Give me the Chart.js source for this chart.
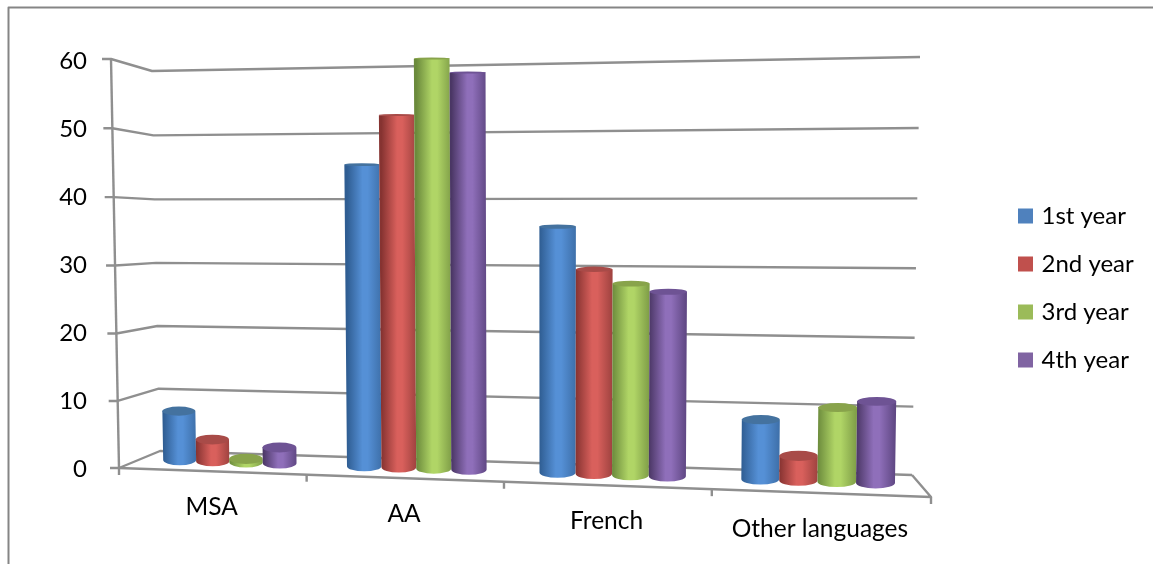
<!DOCTYPE html>
<html>
<head>
<meta charset="utf-8">
<title>Languages by year</title>
<script src="https://cdn.jsdelivr.net/npm/chart.js@4/dist/chart.umd.min.js"></script>
<style>
  html, body { margin: 0; padding: 0; background: #fff; }
  canvas { display: block; }
</style>
</head>
<body>
<canvas id="chart" width="1153" height="564"></canvas>
<script>
const categories = ['MSA', 'AA', 'French', 'Other languages'];
const seriesNames = ['1st year', '2nd year', '3rd year', '4th year'];
const year1 = [7.5, 44.7, 35.7, 8.5];
const year2 = [3.3, 51.9, 29.6, 3.5];
const year3 = [0.5, 60, 27.6, 10.5];
const year4 = [2.4, 57.9, 26.5, 11.5];
const yTicks = [0, 10, 20, 30, 40, 50, 60];

const legendColors = ['#4f81bd', '#c0504d', '#9bbb59', '#8064a2'];
// dark edge, highlight, right edge, cap
const shades = [
  ['#2f5d92', '#5590d6', '#3e70aa', '#44729f'],
  ['#863331', '#d9605c', '#a04340', '#a84b48'],
  ['#6b8a3c', '#b0d566', '#809f48', '#88a34b'],
  ['#4a3664', '#8f6fba', '#604884', '#6e5394']
];

const GRID = '#8f8f8f';
const FONT = 'Lato, Carlito, sans-serif';

// unit square -> quad (bottom-left, bottom-right, top-right, top-left)
function makeProjection(q) {
  const [x0, y0] = q[0], [x1, y1] = q[1], [x2, y2] = q[2], [x3, y3] = q[3];
  const sx = x0 - x1 + x2 - x3, sy = y0 - y1 + y2 - y3;
  const dx1 = x1 - x2, dx2 = x3 - x2, dy1 = y1 - y2, dy2 = y3 - y2;
  const den = dx1 * dy2 - dx2 * dy1;
  const g = (sx * dy2 - dx2 * sy) / den, h = (dx1 * sy - sx * dy1) / den;
  const a = x1 - x0 + g * x1, b = x3 - x0 + h * x3;
  const d = y1 - y0 + g * y1, e = y3 - y0 + h * y3;
  return (u, v) => {
    const w = g * u + h * v + 1;
    return { x: (a * u + b * v + x0) / w, y: (d * u + e * v + y0) / w };
  };
}

const frontPlane = makeProjection([[119, 468], [931, 497], [940, 43], [111, 59]]);
const barPlane = makeProjection([[139, 458.7], [924, 484.6], [931, 50], [132, 63.5]]);
const backPlane = makeProjection([[160, 451], [912, 475], [920, 57], [152, 71]]);

function line(ctx, points) {
  ctx.beginPath();
  points.forEach((p, i) => i ? ctx.lineTo(p.x, p.y) : ctx.moveTo(p.x, p.y));
  ctx.stroke();
}

function drawWalls(chart) {
  const { ctx, chartArea: area, scales } = chart;
  ctx.save();
  ctx.lineWidth = 2;
  ctx.lineJoin = 'round';

  // outer frame, running off the right and bottom of the canvas
  ctx.strokeStyle = '#858585';
  line(ctx, [{ x: 1153, y: 7.5 }, { x: 8.5, y: 7.5 }, { x: 8.5, y: 564 }]);

  ctx.strokeStyle = GRID;
  ctx.lineWidth = 2.4;

  // gridlines run along the side wall, then along the back wall
  scales.y.ticks.forEach(t => {
    const v = (area.bottom - scales.y.getPixelForValue(t.value)) / area.height;
    const f = frontPlane(0, v);
    line(ctx, [{ x: f.x - 9, y: f.y }, f, backPlane(0, v), backPlane(1, v)]);
  });

  line(ctx, [frontPlane(0, 1), frontPlane(0, 0)]);
  line(ctx, [frontPlane(0, 0), frontPlane(1, 0), backPlane(1, 0)]);

  // category separators under the floor edge
  for (let i = 0; i <= categories.length; i++) {
    const p = frontPlane(i / categories.length, 0);
    line(ctx, [p, { x: p.x, y: p.y + 7 }]);
  }
  ctx.restore();
}

function drawCylinder(chart, bar, datasetIndex) {
  const { ctx, chartArea: area } = chart;
  const uL = (bar.x - bar.width / 2 - area.left) / area.width;
  const uR = (bar.x + bar.width / 2 - area.left) / area.width;
  const vTop = (area.bottom - bar.y) / area.height;
  const vBase = (area.bottom - bar.base) / area.height;
  const bl = barPlane(uL, vBase), br = barPlane(uR, vBase);
  const tl = barPlane(uL, vTop), tr = barPlane(uR, vTop);
  // caps open up the further they sit below eye level
  const radiusY = y => Math.max(1, (y - 50) * 0.0125);
  const s = shades[datasetIndex];

  const grad = ctx.createLinearGradient(bl.x, 0, br.x, 0);
  grad.addColorStop(0, s[0]);
  grad.addColorStop(0.45, s[1]);
  grad.addColorStop(0.6, s[1]);
  grad.addColorStop(1, s[2]);

  const baseY = (bl.y + br.y) / 2, topY = (tl.y + tr.y) / 2;
  ctx.beginPath();
  ctx.moveTo(tl.x, tl.y);
  ctx.lineTo(bl.x, bl.y);
  ctx.ellipse((bl.x + br.x) / 2, baseY, (br.x - bl.x) / 2, radiusY(baseY), 0, Math.PI, 0, true);
  ctx.lineTo(tr.x, tr.y);
  ctx.closePath();
  ctx.fillStyle = grad;
  ctx.fill();

  ctx.beginPath();
  ctx.ellipse((tl.x + tr.x) / 2, topY, (tr.x - tl.x) / 2, radiusY(topY), 0, 0, Math.PI * 2);
  ctx.fillStyle = s[3];
  ctx.fill();
}

const perspectivePlugin = {
  id: 'perspective',
  afterLayout(chart) {
    // category labels follow the sloping floor edge
    const x = chart.scales.x;
    x.getLabelItems().forEach((item, i) => {
      const p = frontPlane((i + 0.5) / categories.length, 0);
      item.textOffset = 0;
      item.options.textBaseline = 'middle';
      item.options.translation = [p.x, p.y + 36];
    });
    // legend sits slightly past its fitted box, centred on the page height
    const legend = chart.legend;
    const mid = (legend.top + legend.bottom) / 2;
    legend.left = 997.5;
    legend.top += 288 - mid;
    legend.bottom += 288 - mid;
  },
  beforeDatasetsDraw(chart) {
    drawWalls(chart);
    chart.data.datasets.forEach((ds, i) => {
      chart.getDatasetMeta(i).data.forEach(bar => drawCylinder(chart, bar, i));
    });
    return false;
  }
};

const seriesValues = [year1, year2, year3, year4];

new Chart(document.getElementById('chart'), {
  type: 'bar',
  data: {
    labels: categories,
    datasets: seriesNames.map((name, i) => ({
      label: name,
      data: seriesValues[i],
      backgroundColor: legendColors[i],
      borderColor: legendColors[i],
      // thick stroke keeps the legend square 15px with a tighter text gap
      borderWidth: 7
    }))
  },
  options: {
    responsive: false,
    animation: false,
    layout: { padding: { left: 0, top: 61, bottom: 15, right: 0 } },
    categoryPercentage: 0.73,
    barPercentage: 1,
    scales: {
      x: {
        grid: { display: false },
        border: { display: false },
        ticks: { color: '#000', font: { family: FONT, size: 24.5 }, maxRotation: 0, autoSkip: false },
        afterFit(scale) { scale.height = 80; }
      },
      y: {
        min: 0,
        max: 60,
        grid: { display: false, drawTicks: false },
        border: { display: false },
        afterBuildTicks(scale) { scale.ticks = yTicks.map(value => ({ value })); },
        ticks: { color: '#000', padding: 8, font: { family: FONT, size: 24 } },
        afterFit(scale) { scale.width = 95; }
      }
    },
    plugins: {
      tooltip: { enabled: false },
      legend: {
        position: 'right',
        labels: {
          boxWidth: 8,
          boxHeight: 8,
          padding: 24,
          color: '#000',
          font: { family: FONT, size: 24 }
        }
      }
    }
  },
  plugins: [perspectivePlugin]
});
</script>
</body>
</html>
